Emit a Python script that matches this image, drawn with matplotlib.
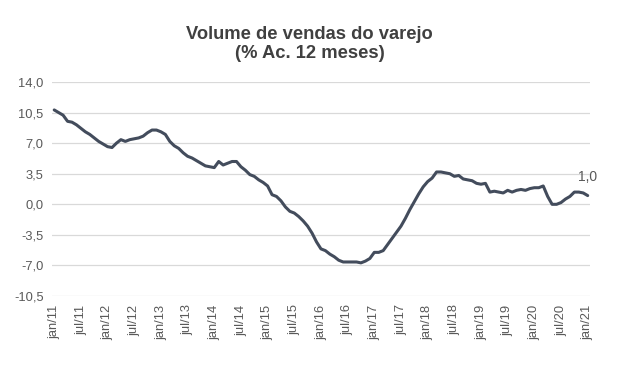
import matplotlib.pyplot as plt
import numpy as np

plt.rcParams['font.family'] = ['Liberation Sans', 'DejaVu Sans']

# acumulado 12 meses, jan/11 a jan/21 (mensal)
valores = [
    10.8, 10.5, 10.2, 9.5, 9.4, 9.1, 8.7, 8.3, 8.0, 7.6, 7.2, 6.9,   # 2011
    6.6, 6.5, 7.0, 7.4, 7.2, 7.4, 7.5, 7.6, 7.8, 8.2, 8.5, 8.5,      # 2012
    8.3, 8.0, 7.2, 6.7, 6.4, 5.9, 5.5, 5.3, 5.0, 4.7, 4.4, 4.3,      # 2013
    4.2, 4.9, 4.5, 4.7, 4.9, 4.9, 4.3, 3.9, 3.4, 3.2, 2.8, 2.5,      # 2014
    2.1, 1.1, 0.9, 0.4, -0.3, -0.8, -1.0, -1.4, -1.9, -2.5, -3.3, -4.3,  # 2015
    -5.1, -5.3, -5.7, -6.0, -6.4, -6.6, -6.6, -6.6, -6.6, -6.7, -6.5, -6.2,  # 2016
    -5.5, -5.5, -5.3, -4.6, -3.9, -3.2, -2.5, -1.6, -0.6, 0.3, 1.2, 2.0,  # 2017
    2.6, 3.0, 3.7, 3.7, 3.6, 3.5, 3.2, 3.3, 2.9, 2.8, 2.7, 2.4,      # 2018
    2.3, 2.4, 1.4, 1.5, 1.4, 1.3, 1.6, 1.4, 1.6, 1.7, 1.6, 1.8,      # 2019
    1.9, 1.9, 2.1, 0.9, 0.0, 0.0, 0.2, 0.6, 0.9, 1.4, 1.4, 1.3,      # 2020
    1.0,                                                              # jan/21
]
meses = ['jan', 'fev', 'mar', 'abr', 'mai', 'jun', 'jul', 'ago', 'set', 'out', 'nov', 'dez']
rotulos = [f"{meses[i % 12]}/{11 + i // 12}" for i in range(len(valores))]
yticks = [-10.5, -7.0, -3.5, 0.0, 3.5, 7.0, 10.5, 14.0]

cinza = '#595959'
fig = plt.figure(figsize=(6.19, 3.71), dpi=100)
ax = fig.add_axes([0.084, 0.202, 0.869, 0.577])

x = np.arange(len(valores))
ax.plot(x, valores, color='#434c5c', lw=2.2, solid_capstyle='round')
ax.annotate(f"{valores[-1]:.1f}".replace('.', ','), (x[-1], valores[-1]),
            xytext=(0, 8), textcoords='offset points', ha='center', va='bottom',
            fontsize=10, color=cinza)

ax.set_xlim(-0.5, len(valores) - 0.5)
ax.set_ylim(-10.5, 14.0)
ax.set_yticks(yticks)
ax.set_yticklabels([f"{v:.1f}".replace('.', ',') for v in yticks])
ax.set_xticks(x[::6])
ax.set_xticklabels([rotulos[i] for i in range(0, len(valores), 6)], rotation=90)
ax.tick_params(length=0, labelsize=9.3, colors=cinza, pad=6)
ax.grid(axis='y', color='#d9d9d9', lw=0.9)
ax.set_axisbelow(True)
for s in ax.spines.values():
    s.set_visible(False)

fig.text(0.5, 0.882, "Volume de vendas do varejo\n(% Ac. 12 meses)", ha='center', va='center',
         fontsize=13.2, fontweight='bold', color='#404040', linespacing=1.15)

fig.savefig('out.png', dpi=100)
